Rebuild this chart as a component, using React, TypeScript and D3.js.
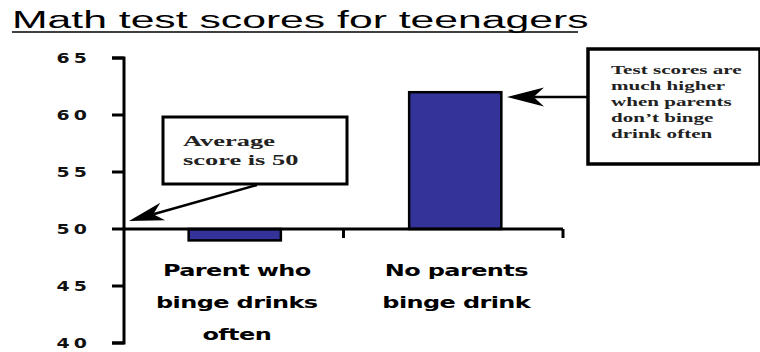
import React from "react";
import * as d3 from "d3";

const W = 760;
const H = 352;

const titleText = "Math test scores for teenagers";
const categories = ["Parent who binge drinks often", "No parents binge drink"];
const categoryLines = [["Parent who", "binge drinks", "often"], ["No parents", "binge drink"]];
const scores = [49, 62];
const averageScore = 50;
const yTicks = [40, 45, 50, 55, 60, 65];
const yDomain = [40, 65];
const noteAverage = ["Average", "score is 50"];
const noteHigher = ["Test scores are", "much higher", "when parents", "don\u2019t binge", "drink often"];

const M = { left: 124, right: 563, top: 58, bottom: 343 };

function SText({ x, y, sx, anchor = "start", children, ...rest }: any) {
  return (
    <g transform={`translate(${x},${y}) scale(${sx},1)`}>
      <text x={0} y={0} textAnchor={anchor} {...rest}>
        {children}
      </text>
    </g>
  );
}

function Arrow({ x1, y1, x2, y2, len = 35, half = 9, sw = 2.5 }: any) {
  const dx = x2 - x1;
  const dy = y2 - y1;
  const d = Math.hypot(dx, dy);
  const ux = dx / d;
  const uy = dy / d;
  const nx = -uy;
  const ny = ux;
  const bx = x2 - len * ux;
  const by = y2 - len * uy;
  const kx = x2 - 0.72 * len * ux;
  const ky = y2 - 0.72 * len * uy;
  const pts = [
    [x2, y2],
    [bx + half * nx, by + half * ny],
    [kx, ky],
    [bx - half * nx, by - half * ny],
  ];
  return (
    <g>
      <line x1={x1} y1={y1} x2={kx} y2={ky} stroke="#000" strokeWidth={sw} />
      <polygon points={pts.map((p) => p.join(",")).join(" ")} fill="#000" />
    </g>
  );
}

export default function App() {
  const x = d3.scaleBand<string>().domain(categories).range([M.left, M.right]).padding(0);
  const y = d3.scaleLinear().domain(yDomain).range([M.bottom, M.top]);
  const barW = x.bandwidth() * 0.42;
  const y0 = y(averageScore);
  const sans = "'Liberation Sans', Arial, sans-serif";
  const heavy = "'DejaVu Sans', 'Liberation Sans', sans-serif";
  const serif = "'Liberation Serif', 'Times New Roman', serif";

  const boundaryTicks = categories.map((c) => (x(c) as number) + x.bandwidth());

  return (
    <svg width={W} height={H} style={{ position: "absolute", left: 0, top: 0, background: "#fff" }}>
      <rect x={0} y={0} width={W} height={H} fill="#fff" />
      {/* Title */}
      <SText x={12} y={28} sx={1.78} fontFamily={sans} fontSize={24} fill="#000">
        {titleText}
      </SText>
      <line x1={12} x2={578} y1={32} y2={32} stroke="#000" strokeWidth={1.6} />

      {/* Y axis */}
      <path
        d={`M${M.left - 12},${y(yDomain[0])}H${M.left}V${y(yDomain[1])}H${M.left - 12}`}
        fill="none"
        stroke="#000"
        strokeWidth={3}
      />
      {yTicks.map((t) => (
        <g key={t}>
          <line x1={M.left - 12} x2={M.left} y1={y(t)} y2={y(t)} stroke="#000" strokeWidth={3} />
          <SText
            x={91}
            y={y(t) + 5}
            sx={1.35}
            anchor="end"
            fontFamily={heavy}
            fontWeight={700}
            fontSize={14}
            letterSpacing={3}
            fill="#111"
          >
            {t}
          </SText>
        </g>
      ))}

      {/* Bars */}
      {categories.map((c, i) => {
        const cx = (x(c) as number) + x.bandwidth() / 2 + (i === 0 ? 1 : 2);
        const yv = y(scores[i]);
        return (
          <rect
            key={c}
            x={cx - barW / 2}
            y={Math.min(yv, y0)}
            width={barW}
            height={Math.abs(yv - y0)}
            fill="#333399"
            stroke="#000"
            strokeWidth={2.5}
          />
        );
      })}

      {/* X axis at average */}
      <line x1={M.left} x2={M.right} y1={y0} y2={y0} stroke="#000" strokeWidth={3} />
      {boundaryTicks.map((bx, i) => (
        <line key={i} x1={bx} x2={bx} y1={y0} y2={y0 + 9} stroke="#000" strokeWidth={3} />
      ))}

      {/* Category labels */}
      {categories.map((c, i) => {
        const cx = (x(c) as number) + x.bandwidth() / 2 + 3;
        return categoryLines[i].map((ln, j) => (
          <SText
            key={c + j}
            x={cx}
            y={276 + j * 32}
            sx={1.5}
            anchor="middle"
            fontFamily={heavy}
            fontWeight={700}
            fontSize={16}
            letterSpacing={-0.4}
            fill="#000"
          >
            {ln}
          </SText>
        ));
      })}

      {/* Annotation: average */}
      <rect x={163} y={117} width={184} height={67} fill="#fff" stroke="#000" strokeWidth={3} />
      {noteAverage.map((ln, j) => (
        <SText key={ln} x={183} y={146 + j * 19} sx={1.76} fontFamily={serif} fontWeight={700} fontSize={15} fill="#222">
          {ln}
        </SText>
      ))}
      <Arrow x1={257} y1={185} x2={129} y2={221} />

      {/* Annotation: higher */}
      <rect x={588} y={49} width={172} height={115} fill="#fff" stroke="#000" strokeWidth={3.5} />
      {noteHigher.map((ln, j) => (
        <SText key={ln} x={611} y={74 + j * 16} sx={1.62} fontFamily={serif} fontWeight={700} fontSize={13} fill="#222">
          {ln}
        </SText>
      ))}
      <Arrow x1={588} y1={97} x2={507} y2={97} half={9.5} len={37} />
    </svg>
  );
}
